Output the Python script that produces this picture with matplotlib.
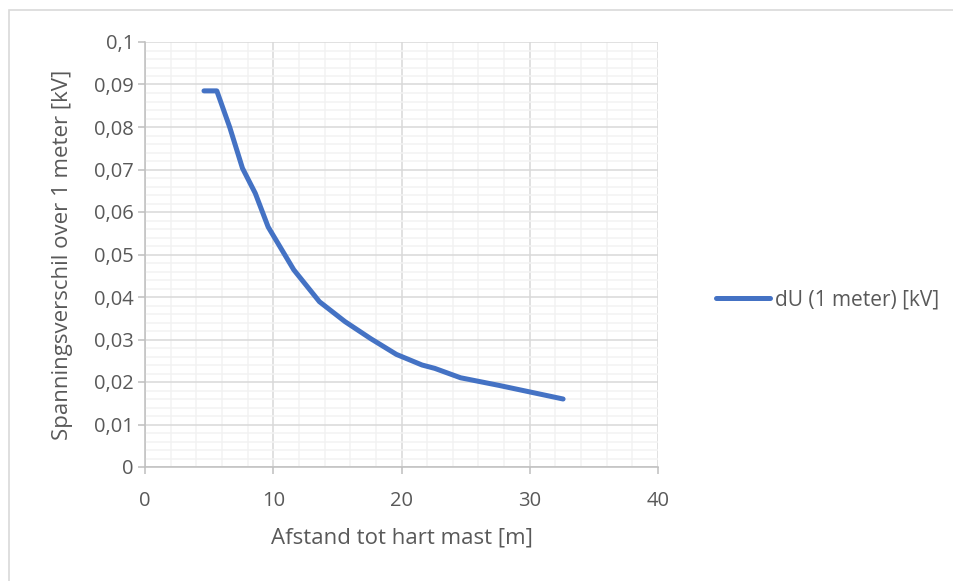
import matplotlib
matplotlib.use("Agg")
import matplotlib.pyplot as plt
from matplotlib.patches import Rectangle
from matplotlib.ticker import MultipleLocator, FuncFormatter

# afstand tot hart mast [m] en spanningsverschil over 1 meter [kV]
afstand = [4.6, 5.6, 6.6, 7.6, 8.6, 9.6, 11.6, 13.6, 15.6, 16.6, 17.6,
           19.6, 21.6, 22.6, 24.6, 27.6, 32.6]
du_1m = [0.0885, 0.0885, 0.0800, 0.0703, 0.0644, 0.0565, 0.0464, 0.0389,
         0.0342, 0.0322, 0.0302, 0.0265, 0.0240, 0.0232, 0.0210, 0.0192,
         0.0160]
serie_naam = "dU (1 meter) [kV]"

blauw = "#4472C4"
tekst = "#595959"

plt.rcParams['font.family'] = ['Open Sans', 'DejaVu Sans']

fig = plt.figure(figsize=(9.54, 5.81), dpi=100)
# kader rond de grafiek (loopt rechts en onder buiten beeld)
fig.patches.append(Rectangle((9 / 954, -0.1), 1.2, 1.1 - 10 / 581, transform=fig.transFigure,
                             fill=False, edgecolor="#D9D9D9", linewidth=1.2))

ax = fig.add_axes([145 / 954, 114 / 581, 513 / 954, 425 / 581])
ax.plot(afstand, du_1m, color=blauw, linewidth=3.6, solid_capstyle="round",
        label=serie_naam, zorder=3)

ax.set_xlim(0, 40)
ax.set_ylim(0, 0.1)
ax.xaxis.set_major_locator(MultipleLocator(10))
ax.xaxis.set_minor_locator(MultipleLocator(2))
ax.yaxis.set_major_locator(MultipleLocator(0.01))
ax.yaxis.set_minor_locator(MultipleLocator(0.002))
ax.yaxis.set_major_formatter(FuncFormatter(lambda v, p: f"{v:.2f}".rstrip("0").rstrip(".").replace(".", ",") if v else "0"))

ax.grid(which="major", color="#D9D9D9", linewidth=1.1)
ax.grid(which="minor", color="#F2F2F2", linewidth=1.1)
ax.set_axisbelow(True)

for s in ["top", "right"]:
    ax.spines[s].set_visible(False)
for s in ["left", "bottom"]:
    ax.spines[s].set_color("#BFBFBF")
    ax.spines[s].set_linewidth(1.1)

ax.tick_params(which="major", length=5, width=1.1, color="#BFBFBF",
               labelsize=14.5, labelcolor=tekst, pad=3)
ax.tick_params(axis="x", which="major", pad=12)
ax.tick_params(which="minor", length=0)

ax.set_xlabel("Afstand tot hart mast [m]", fontsize=16, color=tekst, labelpad=12)
ax.set_ylabel("Spanningsverschil over 1 meter [kV]", fontsize=16, color=tekst, labelpad=15)

ax.legend(loc="center left", bbox_to_anchor=(697 / 954, 1 - 300 / 581),
          bbox_transform=fig.transFigure, frameon=False, fontsize=15,
          handlelength=2.6, handletextpad=0.25, labelcolor=tekst)

fig.savefig("out.png", dpi=100)
